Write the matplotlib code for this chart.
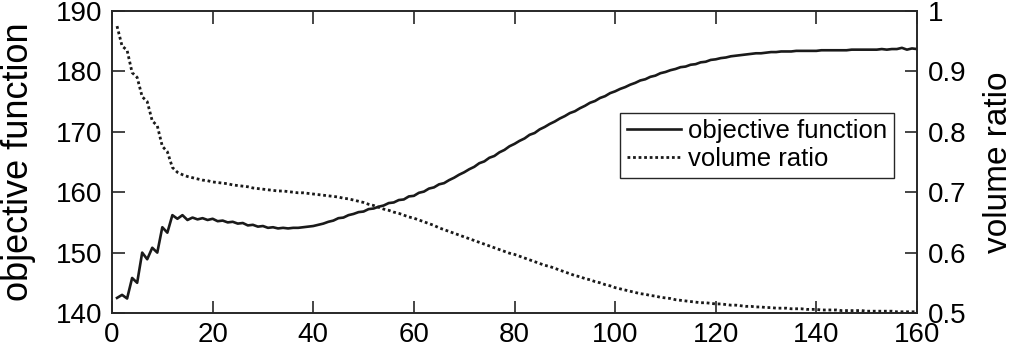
import matplotlib
matplotlib.use("Agg")
import matplotlib.pyplot as plt

iterations = list(range(1, 161))

objective_function = [
    142.5, 143.0, 142.4, 145.8, 145.0, 150.0, 148.9, 150.8, 150.0, 154.2,
    153.3, 156.2, 155.6, 156.2, 155.4, 155.8, 155.5, 155.7, 155.4, 155.6,
    155.2, 155.3, 155.0, 155.1, 154.8, 154.9, 154.5, 154.6, 154.3, 154.4,
    154.1, 154.2, 154.0, 154.1, 154.0, 154.1, 154.1, 154.2, 154.3, 154.4,
    154.6, 154.8, 155.1, 155.3, 155.7, 155.8, 156.2, 156.4, 156.7, 156.8,
    157.2, 157.3, 157.6, 157.8, 158.2, 158.3, 158.7, 158.8, 159.3, 159.4,
    159.9, 160.1, 160.6, 160.8, 161.3, 161.5, 162.0, 162.4, 162.9, 163.3,
    163.8, 164.2, 164.8, 165.1, 165.7, 166.0, 166.6, 167.0, 167.6, 168.0,
    168.5, 168.9, 169.5, 169.8, 170.4, 170.8, 171.3, 171.7, 172.2, 172.6,
    173.1, 173.4, 173.9, 174.3, 174.8, 175.1, 175.6, 175.9, 176.4, 176.7,
    177.1, 177.4, 177.8, 178.1, 178.5, 178.7, 179.1, 179.3, 179.7, 179.9,
    180.2, 180.4, 180.7, 180.8, 181.1, 181.2, 181.5, 181.6, 181.9, 182.0,
    182.2, 182.3, 182.5, 182.6, 182.7, 182.8, 182.9, 183.0, 183.0, 183.1,
    183.2, 183.2, 183.3, 183.3, 183.3, 183.4, 183.4, 183.4, 183.4, 183.4,
    183.5, 183.5, 183.5, 183.5, 183.5, 183.5, 183.6, 183.6, 183.6, 183.6,
    183.6, 183.6, 183.7, 183.6, 183.7, 183.7, 183.9, 183.6, 183.8, 183.7,
]

volume_ratio = [
    0.975, 0.942, 0.935, 0.898, 0.890, 0.858, 0.850, 0.818, 0.810, 0.776,
    0.767, 0.741, 0.733, 0.729, 0.726, 0.724, 0.722, 0.720, 0.719, 0.717,
    0.716, 0.715, 0.714, 0.712, 0.711, 0.710, 0.709, 0.707, 0.706, 0.705,
    0.704, 0.703, 0.702, 0.702, 0.701, 0.700, 0.699, 0.699, 0.698, 0.697,
    0.696, 0.695, 0.694, 0.693, 0.692, 0.690, 0.689, 0.687, 0.685, 0.683,
    0.680, 0.678, 0.675, 0.672, 0.670, 0.667, 0.665, 0.662, 0.659, 0.657,
    0.654, 0.651, 0.648, 0.645, 0.641, 0.638, 0.635, 0.632, 0.629, 0.626,
    0.623, 0.620, 0.617, 0.614, 0.611, 0.608, 0.605, 0.602, 0.599, 0.597,
    0.594, 0.591, 0.588, 0.585, 0.582, 0.579, 0.577, 0.574, 0.571, 0.568,
    0.565, 0.562, 0.560, 0.557, 0.555, 0.552, 0.550, 0.547, 0.545, 0.542,
    0.540, 0.538, 0.536, 0.534, 0.532, 0.531, 0.529, 0.528, 0.526, 0.525,
    0.524, 0.522, 0.521, 0.520, 0.519, 0.518, 0.517, 0.517, 0.516, 0.515,
    0.515, 0.514, 0.513, 0.513, 0.512, 0.511, 0.511, 0.510, 0.510, 0.509,
    0.509, 0.508, 0.508, 0.508, 0.507, 0.507, 0.507, 0.506, 0.506, 0.506,
    0.505, 0.505, 0.505, 0.505, 0.504, 0.504, 0.504, 0.504, 0.504, 0.503,
    0.503, 0.503, 0.503, 0.503, 0.503, 0.502, 0.502, 0.502, 0.502, 0.502,
]

x_ticks = [0, 20, 40, 60, 80, 100, 120, 140, 160]
left_ticks = [140, 150, 160, 170, 180, 190]
right_ticks = [0.5, 0.6, 0.7, 0.8, 0.9, 1.0]
right_tick_labels = ["0.5", "0.6", "0.7", "0.8", "0.9", "1"]

plt.rcParams['font.family'] = ['Liberation Sans', 'DejaVu Sans']
TICK_FS = 20
LEG_FS = 18.5
line_col = '#1a1a1a'
spine_col = '#262626'

fig = plt.figure(figsize=(10.21, 3.56), dpi=100)
W, H = 1021.0, 356.0
ax = fig.add_axes([112 / W, 1 - 313 / H, (917 - 112) / W, (313 - 11) / H])
ax2 = ax.twinx()

l1, = ax.plot(iterations, objective_function, color=line_col, lw=1.9,
              label='objective function')
l2, = ax2.plot(iterations, volume_ratio, color=line_col, lw=2.0,
               linestyle=(0, (1, 1)), dash_capstyle='butt', label='volume ratio')

ax.set_xlim(0, 160)
ax.set_ylim(140, 190)
ax2.set_ylim(0.5, 1.0)
ax.set_xticks(x_ticks)
ax.set_yticks(left_ticks)
ax2.set_yticks(right_ticks)
ax2.set_yticklabels(right_tick_labels)

for a in (ax, ax2):
    for s in a.spines.values():
        s.set_color(spine_col)
        s.set_linewidth(1.2)
ax.tick_params(axis='x', direction='in', length=9, width=1.2, top=True,
               labelsize=TICK_FS, colors=spine_col, labelcolor='black', pad=6.5)
ax.tick_params(axis='y', direction='in', length=9, width=1.2, right=False,
               labelsize=TICK_FS, colors=spine_col, labelcolor='black', pad=7)
ax2.tick_params(axis='y', direction='in', length=9, width=1.2,
                labelsize=TICK_FS, colors=spine_col, labelcolor='black', pad=8)

ax.set_ylabel('objective function', fontsize=26)
ax2.set_ylabel('volume ratio', fontsize=24)
ax.yaxis.set_label_coords((36 - 112) / 805.0, 0.5)
ax2.yaxis.set_label_coords((983 - 112) / 805.0, 0.5)

leg = ax.legend(handles=[l1, l2], loc='upper right',
                bbox_to_anchor=((894 - 112) / 805.0, 1 - (113 - 11) / 302.0),
                fontsize=LEG_FS, frameon=True, fancybox=False, framealpha=1,
                edgecolor=spine_col, handlelength=2.1, handletextpad=0.3,
                borderpad=0.25, labelspacing=0.15, borderaxespad=0)
leg.get_frame().set_linewidth(1.0)

fig.savefig('out.png', dpi=100)
